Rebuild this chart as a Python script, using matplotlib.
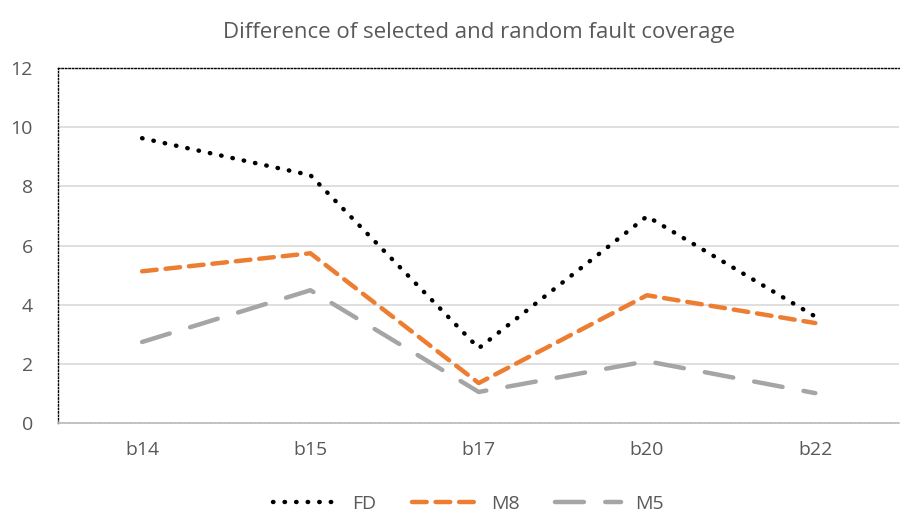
import matplotlib.pyplot as plt
import numpy as np

categories = ["b14", "b15", "b17", "b20", "b22"]
fd = [9.63, 8.38, 2.53, 6.99, 3.60]
m8 = [5.13, 5.74, 1.35, 4.32, 3.38]
m5 = [2.74, 4.49, 1.05, 2.09, 1.01]

plt.rcParams['font.family'] = ['Open Sans', 'DejaVu Sans']
text_color = '#595959'

fig = plt.figure(figsize=(9, 5.2), dpi=100)
ax = fig.add_axes([0.0644, 0.1865, 0.935, 0.6825])

x = np.arange(len(categories))
ax.plot(x, fd, color='black', lw=3.2, linestyle=(0, (0.1, 2.5)),
        dash_capstyle='round', label='FD')
ax.plot(x, m8, color='#ED7D31', lw=3.2, linestyle=(0, (3.3, 2.0)),
        dash_capstyle='round', label='M8')
ax.plot(x, m5, color='#A5A5A5', lw=3.2, linestyle=(0, (6.5, 4.8)),
        dash_capstyle='round', label='M5')

ax.set_xlim(-0.5, len(categories) - 0.5)
ax.set_ylim(0, 12)
ax.set_yticks(range(0, 13, 2))
ax.set_xticks(x)
ax.set_xticklabels(categories)
ax.tick_params(axis='both', length=0, colors=text_color, labelsize=14)
ax.tick_params(axis='x', pad=13)
ax.tick_params(axis='y', pad=18)

ax.grid(axis='y', color='#D9D9D9', lw=1.2)
ax.set_axisbelow(True)

for s in ['left', 'top']:
    ax.spines[s].set_linestyle((0, (1, 1.5)))
    ax.spines[s].set_color('black')
    ax.spines[s].set_linewidth(1.0)
ax.spines['right'].set_visible(False)
ax.spines['bottom'].set_color('#BFBFBF')
ax.spines['bottom'].set_linestyle((0, (1, 0.5)))
ax.spines['bottom'].set_linewidth(1.2)

ax.set_title("Difference of selected and random fault coverage",
             color=text_color, fontsize=16, pad=22)

leg = fig.legend(loc='lower center', bbox_to_anchor=(0.52, -0.02), ncol=3,
                 frameon=False, fontsize=14, handlelength=3.4,
                 columnspacing=1.8, handletextpad=0.7)
for t in leg.get_texts():
    t.set_color(text_color)

fig.savefig("out.png", dpi=100)
